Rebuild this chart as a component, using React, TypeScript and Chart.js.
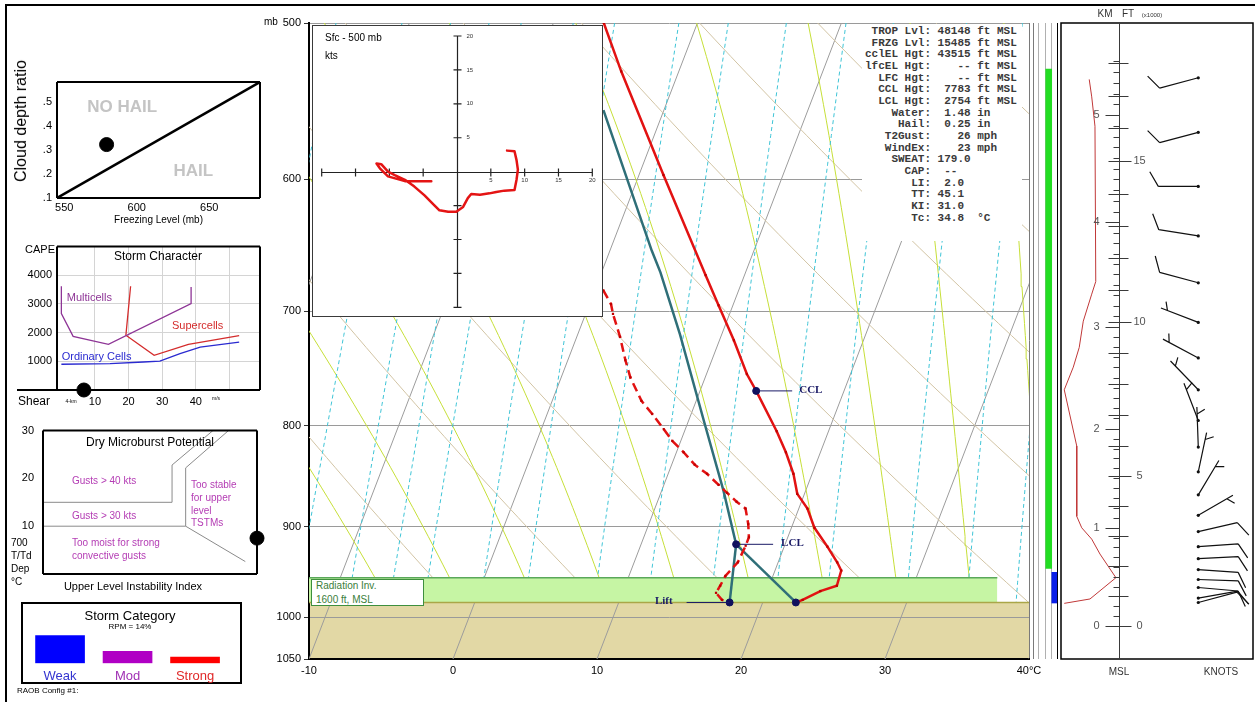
import React, { useEffect, useRef } from "react";
import { Chart, registerables } from "chart.js";

Chart.register(...registerables);
const SANS = "'Liberation Sans', Arial, Helvetica, sans-serif";
Chart.defaults.font.family = SANS;
Chart.defaults.color = "#000";

// ================= DATA : Skew-T =================
const pressureTicks = [500, 600, 700, 800, 900, 1000, 1050];
const temperatureTicks = [-10, 0, 10, 20, 30, 40];

const tempPressure = [500, 529, 597, 671, 695, 724, 753, 768, 805, 825, 846, 866, 881, 901, 921, 938, 947, 964, 970, 980, 983];
const tempValues = [-6.5, -4.0, 1.7, 7.3, 9.0, 11.0, 12.8, 13.9, 16.4, 17.6, 18.7, 19.5, 20.6, 21.6, 23.0, 24.1, 24.6, 24.7, 23.7, 22.7, 22.3];

const dewPressure = [683, 694, 702, 721, 741, 756, 777, 789, 803, 814, 825, 837, 846, 857, 865, 874, 881, 897, 911, 920, 938, 953, 964, 972, 980, 983];
const dewValues = [0.6, 1.5, 1.9, 3.0, 4.0, 4.8, 6.2, 7.3, 8.5, 9.4, 10.5, 11.6, 12.7, 13.8, 14.6, 15.5, 16.3, 16.9, 17.3, 17.3, 17.2, 16.7, 16.6, 16.5, 17.1, 17.7];

const parcelPressure = [918.5, 863, 798, 719, 669, 652, 553.5];
const parcelValues = [16.6, 14.3, 11.2, 7.1, 4.1, 2.9, -4.2];

const surfacePressure = 983;
const surfaceTemp = 22.3;
const surfaceDew = 17.7;
const lclPressure = 918.5;
const lclTemp = 16.6;
const cclPressure = 768;
const cclTemp = 13.9;
const radInvTopPressure = 955;
const radInvRightEdge = 37.8;

const tagNames = ["CCL", "LCL", "Lift"];
const tagPressures = [cclPressure, lclPressure, surfacePressure];
const tagTemps = [cclTemp, lclTemp, surfaceDew];

const isotherms = [-20, -10, 0, 10, 20, 30, 40];
const dryAdiabats = [-10, 0, 10, 20, 30, 40, 50, 60, 70, 80];
const moistAdiabats = [-10, -5, 0, 5, 10, 15, 20, 25, 30, 35, 40];
const mixingRatios = [1, 1.5, 2, 2.5, 3, 4, 5, 7, 9, 12, 16, 20, 28, 36, 44];

const statsLabels = ["TROP Lvl:", "FRZG Lvl:", "cclEL Hgt:", "lfcEL Hgt:", "LFC Hgt:", "CCL Hgt:", "LCL Hgt:", "Water:", "Hail:", "T2Gust:", "WindEx:", "SWEAT:", "CAP:", "LI:", "TT:", "KI:", "Tc:"];
const statsValues = ["48148 ft MSL", "15485 ft MSL", "43515 ft MSL", "   -- ft MSL", "   -- ft MSL", " 7783 ft MSL", " 2754 ft MSL", " 1.48 in", " 0.25 in", "   26 mph", "   23 mph", "179.0", " --", " 2.0", "45.1", "31.0", "34.8  °C"];

// ================= DATA : hodograph =================
const hodoU = [-3.8, -7.7, -10.2, -11.4, -11.9, -11.2, -10.2, -9.2, -7.7, -6.3, -4.8, -3.6, -2.6, -1.3, -0.1, 0.9, 1.6, 2.1, 3.4, 4.8, 5.8, 7.0, 8.5, 8.8, 9.0, 8.8, 8.5, 7.4];
const hodoV = [-1.4, -1.4, -0.7, 0.5, 1.2, 1.1, 0.0, -0.5, -1.2, -2.2, -3.5, -4.7, -5.7, -5.9, -5.9, -5.2, -3.9, -3.3, -3.4, -3.2, -3.0, -2.8, -2.7, -1.2, 0.3, 1.7, 3.0, 3.1];
const hodoTicks = [-20, -15, -10, -5, 5, 10, 15, 20];

// ================= DATA : winds / height panel =================
const windPressure = [533, 568, 605, 641, 677, 709, 739, 767, 795, 820, 844, 867, 888, 905, 921, 934, 946, 957, 966, 978, 983];
const windDir = [255, 255, 270, 279, 285, 291, 298, 316, 339, 358, 12, 31, 60, 77, 86, 87, 94, 92, 95, 80, 75];
const windSpeed = [10, 10, 10, 10, 10, 5, 5, 5, 5, 5, 5, 5, 5, 10, 10, 10, 10, 10, 10, 10, 10];

const kmLevels = [0, 1, 2, 3, 4, 5];
const kmPressures = [1010, 901, 802.6, 712.5, 630.9, 556.7];
const kmLabels = [0, 1, 2, 3, 4, 5];
const ftLabels = [0, 5, 10, 15];

const profilePressure = [534, 545, 564, 676, 686, 708, 730, 747, 767, 819, 889, 901, 913, 929, 955, 979, 984];
const profileValues = [14.7, 16.0, 17.7, 18.1, 16.0, 11.6, 9.5, 6.4, 1.7, 8.2, 8.2, 10.8, 16.0, 20.3, 28.6, 15.1, 1.7];

const stripLines = [0, 7, 16, 23, 31];
const stripColors = ["#7a7a7a", "#b0b0b0", "#b0b0b0", "#b0b0b0", "#000000"];
const greenBar = [527.6, 944.7];
const blueBar = [949, 983.6];

// ================= DATA : left panels =================
const hailLineX = [545, 685];
const hailLineY = [0.1, 0.582];
const hailPointX = 579.2;
const hailPointY = 0.322;
const hailTicksX = [550, 600, 650];
const hailTicksY = [0.1, 0.2, 0.3, 0.4, 0.5];
const hailTexts = ["NO HAIL", "HAIL"];
const hailTextX = [590, 639];
const hailTextY = [0.477, 0.212];

const multiShear = [0, 0, 3.5, 14.0, 38.6, 38.6];
const multiCape = [3617, 2663, 1872, 1593, 3012, 3594];
const superShear = [20.6, 19.2, 27.6, 37.8, 52.9];
const superCape = [3617, 1907, 1209, 1593, 1896];
const ordShear = [0, 14.5, 24.4, 29.3, 35.3, 41.3, 52.9];
const ordCape = [897, 919, 976, 1010, 1265, 1493, 1666];
const stormShear = 6.7;
const stormCape = 0;
const stormTicksX = [10, 20, 30, 40, 50];
const stormTicksY = [1000, 2000, 3000, 4000];
const stormLabels = ["Multicells", "Supercells", "Ordinary Cells"];
const stormLabelX = [1.6, 32.9, 0.1];
const stormLabelY = [3200, 2220, 1150];
const stormColors = ["#8e3596", "#d42c2c", "#2a2ad0"];

const mbLineAX = [-5.5, 4.45, 4.45, 7.6];
const mbLineAY = [15, 15, 22.8, 30];
const mbLineBX = [-5.5, 5.5, 5.5, 8.8];
const mbLineBY = [10, 10, 22.2, 30];
const mbLineCX = [5.5, 10.1];
const mbLineCY = [10, 2.6];
const mbPointX = 11;
const mbPointY = 7.5;
const mbTicksX = [-5, 0, 5, 10];
const mbTicksY = [10, 20, 30];

const categoryNames = ["Weak", "Mod", "Strong"];
const categoryValues = [28, 12, 6.3];
const categoryColors = ["#0000ff", "#b000c4", "#ff0000"];
const categoryTextColors = ["#3434d0", "#a030b4", "#e02828"];

// ================= helpers =================
const SKEW = 22.875;
const skewX = (t: number, p: number) => t + SKEW * Math.log(1050 / p);
const pts = (ps: number[], ts: number[]) => ps.map((p, i) => ({ x: skewX(ts[i], p), y: p }));
const xy = (xs: number[], ys: number[]) => xs.map((x, i) => ({ x, y: ys[i] }));

const linePressures = (() => {
  const a: number[] = [];
  for (let p = 500; p < 980; p += 10) a.push(p);
  a.push(surfacePressure);
  return a;
})();

function dryLine(theta: number) {
  return linePressures.map((p) => ({ x: skewX((theta + 273.15) * Math.pow(p / 1000, 0.2857) - 273.15, p), y: p }));
}
function mixLine(w: number) {
  return linePressures.map((p) => {
    const es = (w * p) / (622 + w);
    const L = Math.log(es / 6.112);
    return { x: skewX((243.5 * L) / (17.67 - L), p), y: p };
  });
}
function moistLine(thw: number) {
  const Rd = 287.04, Cp = 1005.7, Lv = 2.501e6, eps = 0.622;
  const rate = (T: number, p: number) => {
    const tc = T - 273.15;
    const es = 6.112 * Math.exp((17.67 * tc) / (tc + 243.5));
    const rs = (eps * es) / (p - es);
    return (Rd * T + Lv * rs) / (Cp + (Lv * Lv * rs * eps) / (Rd * T * T)) / p;
  };
  let T = thw + 273.15;
  let p = 1000;
  const out: any[] = [];
  while (p >= 500) {
    if (p <= surfacePressure && (p % 10 === 0 || p === surfacePressure)) out.push({ x: skewX(T - 273.15, p), y: p });
    const k1 = rate(T, p);
    const k2 = rate(T - k1, p - 1);
    T -= 0.5 * (k1 + k2);
    p -= 1;
  }
  return out;
}

const ln = (data: any[], color: string, width: number, order: number, extra: any = {}) => ({
  data, borderColor: color, borderWidth: width, pointRadius: 0, showLine: true, fill: false, tension: 0, order, ...extra,
});

const base = (padding: any) => ({
  responsive: false,
  animation: false as const,
  devicePixelRatio: 1,
  events: [] as any[],
  layout: { padding },
  plugins: { legend: { display: false }, tooltip: { enabled: false } },
});

const fixTicks = (vals: number[]) => (s: any) => { s.ticks = vals.map((v) => ({ value: v })); };

function kmToP(km: number) {
  let i = Math.floor(km);
  if (i < 0) i = 0;
  if (i > kmLevels.length - 2) i = kmLevels.length - 2;
  const f = km - kmLevels[i];
  return Math.exp(Math.log(kmPressures[i]) + f * (Math.log(kmPressures[i + 1]) - Math.log(kmPressures[i])));
}

// ================= chart configs =================
function mainConfig(): any {
  const datasets: any[] = [];
  isotherms.forEach((t) => datasets.push(ln([{ x: skewX(t, 500), y: 500 }, { x: skewX(t, 1050), y: 1050 }], "#9c9c9c", 1, 10)));
  dryAdiabats.forEach((th) => datasets.push(ln(dryLine(th), "#d2c4a4", 1, 9)));
  moistAdiabats.forEach((th) => datasets.push(ln(moistLine(th), "#c6df38", 1, 8)));
  mixingRatios.forEach((w) => datasets.push(ln(mixLine(w), "#3ec4d6", 1, 7, { borderDash: [4, 3] })));
  datasets.push(ln([{ x: -10, y: radInvTopPressure }, { x: radInvRightEdge, y: radInvTopPressure }], "#5aa85a", 1.5, 6, { fill: "+1", backgroundColor: "#c6f5a4" }));
  datasets.push(ln([{ x: -10, y: surfacePressure }, { x: radInvRightEdge, y: surfacePressure }], "rgba(0,0,0,0)", 0, 6));
  datasets.push(ln([{ x: -10, y: surfacePressure }, { x: 40, y: surfacePressure }], "#aaa648", 1.5, 5.5));
  const teal = "#2f6f78";
  datasets.push(ln([{ x: skewX(surfaceTemp, surfacePressure), y: surfacePressure }, { x: skewX(lclTemp, lclPressure), y: lclPressure }], teal, 2.5, 5));
  datasets.push(ln([{ x: skewX(surfaceDew, surfacePressure), y: surfacePressure }, { x: skewX(lclTemp, lclPressure), y: lclPressure }], teal, 2.5, 5));
  datasets.push(ln(pts(parcelPressure, parcelValues), teal, 2.5, 5));
  datasets.push(ln(pts(dewPressure, dewValues), "#e21212", 2.5, 4, { borderDash: [9, 5], pointRadius: 1.6, pointStyle: "rect", pointBackgroundColor: "#c00000", pointBorderWidth: 0 }));
  datasets.push(ln(pts(tempPressure, tempValues), "#e21212", 2.5, 3, { pointRadius: 1.6, pointStyle: "rect", pointBackgroundColor: "#c00000", pointBorderWidth: 0 }));
  datasets.push({
    data: [
      { x: skewX(cclTemp, cclPressure), y: cclPressure },
      { x: skewX(lclTemp, lclPressure), y: lclPressure },
      { x: skewX(surfaceDew, surfacePressure), y: surfacePressure },
      { x: skewX(surfaceTemp, surfacePressure), y: surfacePressure },
    ],
    showLine: false, pointRadius: 3.5, backgroundColor: "#10105e", borderColor: "#10105e", order: 1,
  });

  const decor = {
    id: "skewDecor",
    beforeDraw(chart: any) {
      const { ctx, chartArea: a, scales } = chart;
      const top = scales.y.getPixelForValue(surfacePressure);
      const bot = scales.y.getPixelForValue(1050);
      ctx.save();
      ctx.fillStyle = "#e2d8a5";
      ctx.fillRect(a.left, top, a.right - a.left, bot - top);
      ctx.restore();
    },
    afterDatasetsDraw(chart: any) {
      const { ctx, scales } = chart;
      const lineLen = [36, 37, 43];
      const gap = [43, 45, 57];
      const side = [1, 1, -1];
      ctx.save();
      ctx.strokeStyle = "#1a1a66";
      ctx.fillStyle = "#1a1a66";
      ctx.lineWidth = 1;
      ctx.font = "bold 11px 'Liberation Serif', 'Times New Roman', serif";
      ctx.textBaseline = "middle";
      tagNames.forEach((name, i) => {
        const px = scales.x.getPixelForValue(skewX(tagTemps[i], tagPressures[i]));
        const py = scales.y.getPixelForValue(tagPressures[i]);
        ctx.beginPath();
        ctx.moveTo(px, py);
        ctx.lineTo(px + side[i] * lineLen[i], py);
        ctx.stroke();
        ctx.textAlign = side[i] > 0 ? "left" : "right";
        ctx.fillText(name, px + side[i] * gap[i], py - 1);
      });
      ctx.restore();
    },
  };

  return {
    type: "line",
    data: { datasets },
    options: {
      ...base({ left: 0, top: 23, right: 26, bottom: 11 }),
      scales: {
        x: {
          type: "linear", min: -10, max: 40,
          afterBuildTicks: fixTicks(temperatureTicks),
          ticks: { callback: (v: number) => (v === 40 ? "40°C" : String(v)), font: { size: 11 }, color: "#000", padding: 5, maxRotation: 0, autoSkip: false },
          grid: { color: (c: any) => (c.tick && c.tick.value === 40 ? "#7a7a7a" : "rgba(0,0,0,0)"), drawTicks: false },
          border: { display: true, color: "#000", width: 2 },
          afterFit: (s: any) => { s.height = 30; },
        },
        y: {
          type: "logarithmic", reverse: true, min: 500, max: 1050,
          afterBuildTicks: fixTicks(pressureTicks),
          ticks: { callback: (v: number) => String(v), font: { size: 11 }, color: "#000", padding: 3, autoSkip: false },
          grid: { color: (c: any) => (c.tick && c.tick.value === 1050 ? "rgba(0,0,0,0)" : "#9a9a9a"), tickColor: "#333", tickLength: 5 },
          border: { display: true, color: "#000", width: 2 },
          afterFit: (s: any) => { s.width = 69; },
        },
      },
    },
    plugins: [decor],
  };
}

function hodoConfig(): any {
  const axes = {
    id: "hodoAxes",
    beforeDatasetsDraw(chart: any) {
      const { ctx, scales: { x, y } } = chart;
      const x0 = Math.round(x.getPixelForValue(0)) + 0.5;
      const y0 = Math.round(y.getPixelForValue(0)) + 0.5;
      ctx.save();
      ctx.strokeStyle = "#222";
      ctx.lineWidth = 1.2;
      ctx.beginPath();
      ctx.moveTo(x.getPixelForValue(-20), y0);
      ctx.lineTo(x.getPixelForValue(20), y0);
      ctx.moveTo(x0, y.getPixelForValue(20));
      ctx.lineTo(x0, y.getPixelForValue(-20));
      hodoTicks.forEach((t) => {
        const px = x.getPixelForValue(t);
        const py = y.getPixelForValue(t);
        ctx.moveTo(px, y0 - 4); ctx.lineTo(px, y0 + 4);
        ctx.moveTo(x0 - 4, py); ctx.lineTo(x0 + 4, py);
      });
      ctx.stroke();
      ctx.fillStyle = "#333";
      ctx.font = "6px " + SANS;
      ctx.textBaseline = "middle";
      hodoTicks.filter((t) => t > 0).forEach((t) => {
        ctx.textAlign = "center";
        ctx.fillText(String(t), x.getPixelForValue(t), y0 + 8);
        ctx.textAlign = "left";
        ctx.fillText(String(t), x0 + 9, y.getPixelForValue(t));
      });
      ctx.strokeStyle = "#3a3a3a";
      ctx.lineWidth = 1;
      ctx.strokeRect(0.5, 0.5, chart.width - 1, chart.height - 1);
      ctx.restore();
    },
  };
  return {
    type: "line",
    data: { datasets: [ln(xy(hodoU, hodoV), "#e41414", 2.5, 1, { borderJoinStyle: "round", borderCapStyle: "round" })] },
    options: {
      ...base({ left: 9.7, right: 10.7, top: 11, bottom: 9.7 }),
      scales: {
        x: { type: "linear", min: -20, max: 20, display: false },
        y: { type: "linear", min: -20, max: 20, display: false },
      },
    },
    plugins: [axes],
  };
}

function heightConfig(): any {
  const deco = {
    id: "heightDeco",
    afterDatasetsDraw(chart: any) {
      const { ctx, chartArea: a, scales: { x, y } } = chart;
      ctx.save();
      ctx.strokeStyle = "#000";
      ctx.lineWidth = 1.5;
      ctx.strokeRect(a.left, a.top, a.right - a.left, a.bottom - a.top);
      const ax = Math.round(x.getPixelForValue(30.2)) + 0.5;
      ctx.strokeStyle = "#3a3a3a";
      ctx.lineWidth = 1;
      ctx.beginPath();
      ctx.moveTo(ax, a.top);
      ctx.lineTo(ax, a.bottom);
      for (let i = 0; i <= 55; i++) {
        const py = Math.round(y.getPixelForValue(kmToP(i / 10))) + 0.5;
        const len = i % 10 === 0 ? 14 : 6;
        ctx.moveTo(ax - len, py);
        ctx.lineTo(ax, py);
      }
      for (let f = 0; f <= 18; f++) {
        const py = Math.round(y.getPixelForValue(kmToP(f * 0.3048))) + 0.5;
        ctx.moveTo(ax - 11, py);
        ctx.lineTo(ax + (f % 5 === 0 ? 12 : 9), py);
      }
      ctx.stroke();
      ctx.fillStyle = "#555";
      ctx.font = "11px " + SANS;
      ctx.textAlign = "center";
      ctx.textBaseline = "middle";
      kmLabels.forEach((k) => ctx.fillText(String(k), ax - 23, y.getPixelForValue(kmToP(k))));
      ftLabels.forEach((f) => ctx.fillText(String(f), ax + 20, y.getPixelForValue(kmToP(f * 0.3048))));
      // wind barbs
      ctx.strokeStyle = "#111";
      ctx.fillStyle = "#111";
      ctx.lineWidth = 1.2;
      const cx = x.getPixelForValue(71.5);
      windPressure.forEach((p, i) => {
        const cy = y.getPixelForValue(p);
        const r = (windDir[i] * Math.PI) / 180;
        const sx = Math.sin(r), sy = -Math.cos(r);
        const L = 40;
        const ex = cx + L * sx, ey = cy + L * sy;
        const ang = Math.atan2(sy, sx) + Math.PI / 3;
        const bx = Math.cos(ang), by = Math.sin(ang);
        ctx.beginPath();
        ctx.moveTo(cx, cy);
        ctx.lineTo(ex, ey);
        const full = Math.floor(windSpeed[i] / 10);
        const half = windSpeed[i] % 10 >= 5;
        for (let k = 0; k < full; k++) {
          const qx = ex - k * 6 * sx, qy = ey - k * 6 * sy;
          ctx.moveTo(qx, qy);
          ctx.lineTo(qx + 17 * bx, qy + 17 * by);
        }
        if (half) {
          const off = (full === 0 ? 7 : full * 6);
          const qx = ex - off * sx, qy = ey - off * sy;
          ctx.moveTo(qx, qy);
          ctx.lineTo(qx + 9 * bx, qy + 9 * by);
        }
        ctx.stroke();
        ctx.beginPath();
        ctx.arc(cx, cy, 1.6, 0, Math.PI * 2);
        ctx.fill();
      });
      ctx.restore();
    },
  };
  return {
    type: "line",
    data: { datasets: [ln(profilePressure.map((p, i) => ({ x: profileValues[i], y: p })), "#c03838", 1, 1)] },
    options: {
      ...base({ left: 6, right: 2, top: 23, bottom: 41 }),
      scales: {
        x: { type: "linear", min: 0, max: 100, display: false },
        y: { type: "logarithmic", reverse: true, min: 500, max: 1050, display: false },
      },
    },
    plugins: [deco],
  };
}

function stripConfig(): any {
  return {
    type: "bar",
    data: {
      datasets: [
        { data: [{ x: 19.5, y: greenBar }], backgroundColor: "#22dd22", barThickness: 6, grouped: false },
        { data: [{ x: 26.5, y: blueBar }], backgroundColor: "#0a1ee8", barThickness: 5, grouped: false },
      ],
    },
    options: {
      ...base({ left: 4, right: 5, top: 23, bottom: 41 }),
      scales: {
        x: {
          type: "linear", min: 0, max: 31,
          afterBuildTicks: fixTicks(stripLines),
          ticks: { display: false },
          grid: { color: (c: any) => stripColors[c.index] || "#aaa", drawTicks: false, offset: false },
          border: { display: false },
          afterFit: (s: any) => { s.height = 0; },
        },
        y: { type: "logarithmic", reverse: true, min: 500, max: 1050, display: false },
      },
    },
  };
}

const boxPlugin = (sides: string, extendLeftTo?: number) => ({
  id: "boxBorder",
  afterDatasetsDraw(chart: any) {
    const { ctx, chartArea: a } = chart;
    ctx.save();
    ctx.strokeStyle = "#000";
    ctx.lineWidth = 2;
    ctx.beginPath();
    if (sides.includes("l")) { ctx.moveTo(a.left, a.bottom); ctx.lineTo(a.left, a.top); }
    if (sides.includes("t")) { ctx.moveTo(a.left, a.top); ctx.lineTo(a.right, a.top); }
    if (sides.includes("r")) { ctx.moveTo(a.right, a.top); ctx.lineTo(a.right, a.bottom); }
    if (sides.includes("b")) { ctx.moveTo(extendLeftTo !== undefined ? extendLeftTo : a.left, a.bottom); ctx.lineTo(a.right, a.bottom); }
    ctx.stroke();
    ctx.restore();
  },
});

function hailConfig(): any {
  const texts = {
    id: "hailTexts",
    beforeDatasetsDraw(chart: any) {
      const { ctx, scales: { x, y } } = chart;
      ctx.save();
      ctx.fillStyle = "#c4c4c4";
      ctx.font = "bold 17px " + SANS;
      ctx.textAlign = "center";
      ctx.textBaseline = "middle";
      hailTexts.forEach((t, i) => ctx.fillText(t, x.getPixelForValue(hailTextX[i]), y.getPixelForValue(hailTextY[i])));
      ctx.restore();
    },
  };
  return {
    type: "line",
    data: {
      datasets: [
        ln(xy(hailLineX, hailLineY), "#000", 2.5, 2),
        { data: [{ x: hailPointX, y: hailPointY }], showLine: false, pointRadius: 7, backgroundColor: "#000", borderColor: "#000", clip: false, order: 1 },
      ],
    },
    options: {
      ...base({ left: 0, top: 22, right: 15, bottom: 7 }),
      scales: {
        x: {
          type: "linear", min: 545, max: 685, afterBuildTicks: fixTicks(hailTicksX),
          ticks: { font: { size: 11 }, color: "#000", padding: 3, maxRotation: 0, autoSkip: false },
          grid: { display: false, drawTicks: false }, border: { display: false },
          title: { display: true, text: "Freezing Level (mb)", font: { size: 10 }, color: "#000", padding: { top: 0, bottom: 2 } },
          afterFit: (s: any) => { s.height = 30; },
        },
        y: {
          type: "linear", min: 0.1, max: 0.582, afterBuildTicks: fixTicks(hailTicksY),
          ticks: { callback: (v: number) => "." + Math.round(v * 10), font: { size: 11 }, color: "#000", padding: 5, autoSkip: false },
          grid: { display: false, drawTicks: false }, border: { display: false },
          afterFit: (s: any) => { s.width = 57; },
        },
      },
    },
    plugins: [texts, boxPlugin("ltrb")],
  };
}

function stormConfig(): any {
  const texts = {
    id: "stormTexts",
    afterDatasetsDraw(chart: any) {
      const { ctx, scales: { x, y } } = chart;
      ctx.save();
      ctx.font = "11px " + SANS;
      ctx.textAlign = "left";
      ctx.textBaseline = "middle";
      stormLabels.forEach((t, i) => {
        ctx.fillStyle = stormColors[i];
        ctx.fillText(t, x.getPixelForValue(stormLabelX[i]), y.getPixelForValue(stormLabelY[i]));
      });
      ctx.restore();
    },
  };
  return {
    type: "line",
    data: {
      datasets: [
        ln(xy(multiShear, multiCape), stormColors[0], 1.3, 2),
        ln(xy(superShear, superCape), stormColors[1], 1.3, 2),
        ln(xy(ordShear, ordCape), stormColors[2], 1.3, 2),
        { data: [{ x: stormShear, y: stormCape }], showLine: false, pointRadius: 7, backgroundColor: "#000", borderColor: "#000", clip: false, order: 0 },
      ],
    },
    options: {
      ...base({ left: 0, top: 10, right: 15, bottom: 0 }),
      scales: {
        x: {
          type: "linear", min: -1.3, max: 59.1, afterBuildTicks: fixTicks(stormTicksX),
          ticks: { callback: (v: number) => (v === 50 ? "" : String(v)), font: { size: 11 }, color: "#000", padding: 5, maxRotation: 0, autoSkip: false },
          grid: { color: "#d4d4d4", drawTicks: false }, border: { display: false },
          afterFit: (s: any) => { s.height = 20; },
        },
        y: {
          type: "linear", min: 0, max: 5000, afterBuildTicks: fixTicks(stormTicksY),
          ticks: { callback: (v: number) => String(v), font: { size: 11 }, color: "#000", padding: 5, autoSkip: false },
          grid: { color: "#d4d4d4", drawTicks: false }, border: { display: false },
          afterFit: (s: any) => { s.width = 57; },
        },
      },
    },
    plugins: [texts, boxPlugin("ltrb", 17)],
  };
}

function microConfig(): any {
  const gray = "#8a8a8a";
  return {
    type: "line",
    data: {
      datasets: [
        ln(xy(mbLineAX, mbLineAY), gray, 1, 2),
        ln(xy(mbLineBX, mbLineBY), gray, 1, 2),
        ln(xy(mbLineCX, mbLineCY), gray, 1, 2),
        { data: [{ x: mbPointX, y: mbPointY }], showLine: false, pointRadius: 7, backgroundColor: "#000", borderColor: "#000", clip: false, order: 0 },
      ],
    },
    options: {
      ...base({ left: 0, top: 15, right: 18, bottom: 11 }),
      scales: {
        x: {
          type: "linear", min: -5.5, max: 11, afterBuildTicks: fixTicks(mbTicksX),
          ticks: { font: { size: 11 }, color: "#000", padding: -13, maxRotation: 0, autoSkip: false },
          grid: { display: false, drawTicks: false }, border: { display: false },
          afterFit: (s: any) => { s.height = 10; },
        },
        y: {
          type: "linear", min: 0, max: 30, afterBuildTicks: fixTicks(mbTicksY),
          ticks: { font: { size: 11 }, color: "#000", padding: 9, autoSkip: false },
          grid: { display: false, drawTicks: false }, border: { display: false },
          afterFit: (s: any) => { s.width = 43; },
        },
      },
    },
    plugins: [boxPlugin("ltrb")],
  };
}

function categoryConfig(): any {
  return {
    type: "bar",
    data: {
      labels: categoryNames,
      datasets: [{ data: categoryValues, backgroundColor: categoryColors, barThickness: 49 }],
    },
    options: {
      ...base({ left: 26.3, top: 35.3, right: 31.2, bottom: 11.7 }),
      scales: {
        x: {
          ticks: { color: (c: any) => categoryTextColors[c.index], font: { size: 13 }, padding: 5 },
          grid: { display: false, drawTicks: false }, border: { display: false },
          afterFit: (s: any) => { s.height = 20; },
        },
        y: { min: 0, max: 28, display: false },
      },
    },
  };
}

// ================= components =================
function ChartCanvas({ left, top, width, height, make, bg }: any) {
  const ref = useRef<HTMLCanvasElement>(null);
  useEffect(() => {
    const chart = new Chart(ref.current as HTMLCanvasElement, make());
    return () => chart.destroy();
  }, []);
  return (
    <canvas ref={ref} width={width} height={height}
      style={{ position: "absolute", left, top, width, height, background: bg || "transparent" }} />
  );
}

function Txt({ x, y, size = 11, color = "#000", align = "left", bold = false, rotate = 0, children }: any) {
  const tx = align === "center" ? "-50%" : align === "right" ? "-100%" : "0";
  return (
    <div style={{
      position: "absolute", left: x, top: y, transform: `translate(${tx}, -50%)${rotate ? ` rotate(${rotate}deg)` : ""}`, fontSize: size, lineHeight: 1,
      color, whiteSpace: "nowrap", fontWeight: bold ? "bold" : "normal", fontFamily: SANS,
    }}>{children}</div>
  );
}

export default function App() {
  const magenta = "#b43cb4";
  const statsText = statsLabels.map((l, i) => l.padStart(10) + " " + statsValues[i]).join("\n");
  return (
    <div style={{ position: "fixed", left: 0, top: 0, width: 1255, height: 702, background: "#fff", overflow: "hidden", fontFamily: SANS }}>
      {/* frame */}
      <div style={{ position: "absolute", left: 5, top: 4, width: 1260, height: 710, borderLeft: "2px solid #000", borderTop: "2px solid #000" }} />

      {/* main skew-T */}
      <ChartCanvas left={240} top={0} width={815} height={700} make={mainConfig} />
      <Txt x={264} y={22} size={10}>mb</Txt>

      {/* stats box */}
      <div style={{ position: "absolute", left: 862, top: 24, width: 160, height: 217, background: "#fff" }} />
      <pre style={{
        position: "absolute", left: 865, top: 26, margin: 0, fontFamily: "'Liberation Mono', 'Courier New', monospace",
        fontSize: 11, lineHeight: "11.66px", color: "#3a3a3a", fontWeight: "bold",
      }}>{statsText}</pre>

      {/* radiation inversion label */}
      <div style={{ position: "absolute", left: 311, top: 579, width: 113, height: 27, boxSizing: "border-box", border: "1px solid #3e8f3e", background: "#fff" }} />
      <Txt x={316} y={586} size={10} color="#3a7e3a">Radiation Inv.</Txt>
      <Txt x={316} y={600} size={10} color="#3a7e3a">1600 ft, MSL</Txt>

      {/* hodograph */}
      <ChartCanvas left={312} top={25} width={291} height={292} make={hodoConfig} bg="#fff" />
      <Txt x={325} y={38} size={10}>Sfc - 500 mb</Txt>
      <Txt x={325} y={56} size={10}>kts</Txt>

      {/* strip + height panel */}
      <ChartCanvas left={1026} top={0} width={40} height={700} make={stripConfig} />
      <ChartCanvas left={1055} top={0} width={200} height={700} make={heightConfig} />
      <Txt x={1105} y={14} size={10} color="#333" align="center">KM</Txt>
      <Txt x={1128} y={14} size={10} color="#333" align="center">FT</Txt>
      <Txt x={1152} y={15} size={6} color="#333" align="center">(x1000)</Txt>
      <Txt x={1119} y={672} size={10} color="#333" align="center">MSL</Txt>
      <Txt x={1221} y={672} size={10} color="#333" align="center">KNOTS</Txt>

      {/* hail panel */}
      <ChartCanvas left={0} top={60} width={275} height={175} make={hailConfig} />
      <Txt x={21} y={121} size={16} align="center" rotate={-90}>Cloud depth ratio</Txt>

      {/* storm character */}
      <ChartCanvas left={0} top={235} width={275} height={175} make={stormConfig} />
      <Txt x={40} y={249} size={11} align="center">CAPE</Txt>
      <Txt x={158} y={256} size={12} align="center">Storm Character</Txt>
      <Txt x={34} y={401} size={12} align="center">Shear</Txt>
      <Txt x={71} y={401} size={5} align="center">4-km</Txt>
      <Txt x={216} y={398} size={5} align="center">m/s</Txt>

      {/* dry microburst */}
      <ChartCanvas left={0} top={415} width={275} height={180} make={microConfig} />
      <Txt x={150} y={442} size={12} align="center">Dry Microburst Potential</Txt>
      <Txt x={72} y={481} size={10} color={magenta}>Gusts &gt; 40 kts</Txt>
      <Txt x={72} y={516} size={10} color={magenta}>Gusts &gt; 30 kts</Txt>
      <Txt x={72} y={543} size={10} color={magenta}>Too moist for strong</Txt>
      <Txt x={72} y={556} size={10} color={magenta}>convective gusts</Txt>
      <Txt x={191} y={485} size={10} color={magenta}>Too stable</Txt>
      <Txt x={191} y={498} size={10} color={magenta}>for upper</Txt>
      <Txt x={191} y={511} size={10} color={magenta}>level</Txt>
      <Txt x={191} y={523} size={10} color={magenta}>TSTMs</Txt>
      <Txt x={11} y={543} size={10}>700</Txt>
      <Txt x={11} y={556} size={10}>T/Td</Txt>
      <Txt x={11} y={569} size={10}>Dep</Txt>
      <Txt x={11} y={582} size={10}>°C</Txt>
      <Txt x={133} y={586} size={11} align="center">Upper Level Instability Index</Txt>

      {/* storm category */}
      <div style={{ position: "absolute", left: 21, top: 602, width: 221, height: 82, boxSizing: "border-box", border: "2px solid #000" }} />
      <ChartCanvas left={0} top={600} width={260} height={95} make={categoryConfig} />
      <Txt x={130} y={615} size={13} align="center">Storm Category</Txt>
      <Txt x={130} y={627} size={8} align="center">RPM = 14%</Txt>
      <Txt x={17} y={691} size={8}>RAOB Config #1:</Txt>
    </div>
  );
}
